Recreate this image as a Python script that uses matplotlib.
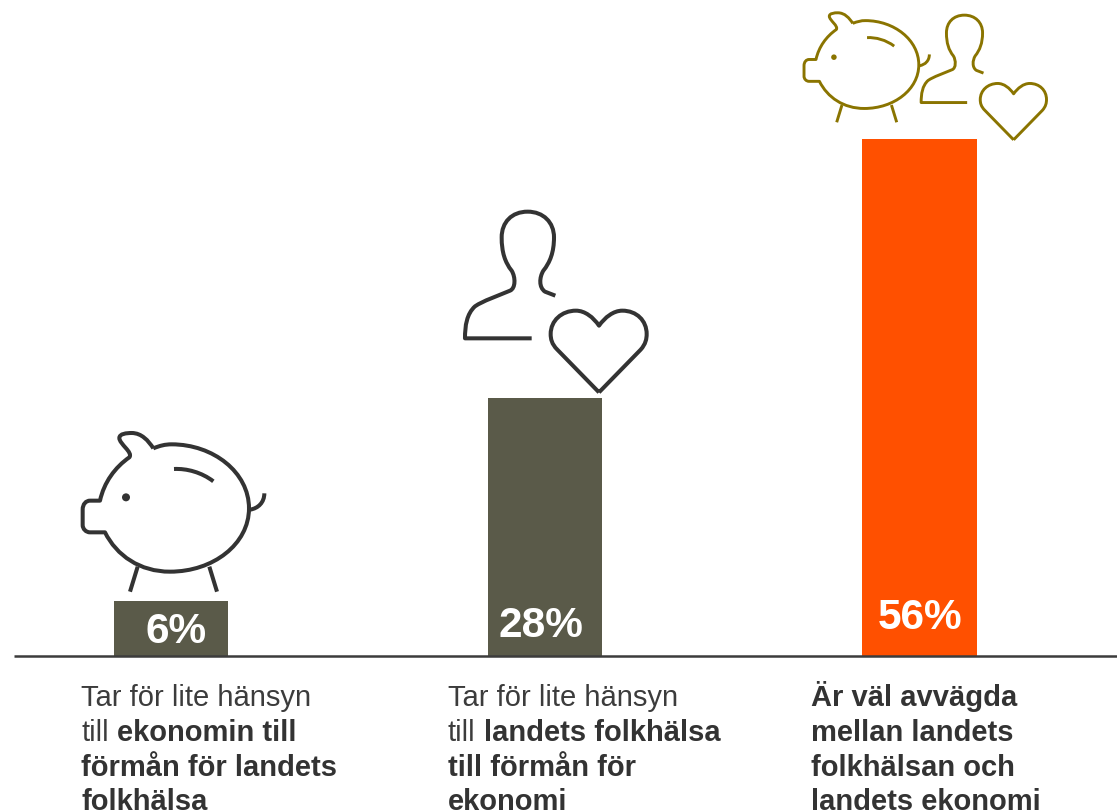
import matplotlib
matplotlib.use("Agg")
import matplotlib.pyplot as plt
from matplotlib.path import Path
from matplotlib.patches import PathPatch, Circle

plt.rcParams['font.family'] = ['Liberation Sans', 'DejaVu Sans']

# ---- data ----
values = [6, 28, 56]
value_labels = ["6%", "28%", "56%"]
bar_colors = ["#5A5A49", "#5A5A49", "#FF5000"]
line1 = [[("Tar för lite hänsyn", False)],
         [("till", False), ("ekonomin till", True)],
         [("förmån för landets", True)],
         [("folkhälsa", True)]]
line2 = [[("Tar för lite hänsyn", False)],
         [("till", False), ("landets folkhälsa", True)],
         [("till förmån för", True)],
         [("ekonomi", True)]]
line3 = [[("Är väl avvägda", True)],
         [("mellan landets", True)],
         [("folkhälsan och", True)],
         [("landets ekonomi", True)]]
captions = [line1, line2, line3]

W, H = 1117, 812
BASE = 657.0
PX_PER_UNIT = 9.225
CENTERS = (171.0, 545.0, 919.5)
STEP = 374.25
fig = plt.figure(figsize=(W / 100, H / 100), dpi=100, facecolor="white")

# bars
x0_px, x1_px = 14, 1117
top_units = 60
ax = fig.add_axes([x0_px / W, (H - BASE) / H, (x1_px - x0_px) / W, top_units * PX_PER_UNIT / H])
ax.set_xlim((x0_px - CENTERS[0]) / STEP, (x1_px - CENTERS[0]) / STEP)
ax.set_ylim(0, top_units)
ax.bar(range(len(values)), values, width=114.5 / STEP, color=bar_colors, linewidth=0)
ax.axis("off")

# overlay in pixel coordinates: icons and text
ov = fig.add_axes([0, 0, 1, 1], facecolor="none")
ov.set_xlim(0, W)
ov.set_ylim(H, 0)
ov.axis("off")
ov.plot([x0_px, x1_px], [BASE - 0.5, BASE - 0.5], color="#3C3C3C", lw=1.8, solid_capstyle="butt")

M, C, L, Z = Path.MOVETO, Path.CURVE4, Path.LINETO, Path.CLOSEPOLY


def curve(start, *segs):
    v, c = [start], [M]
    for s in segs:
        if len(s) == 1:
            v += list(s)
            c += [L]
        else:
            v += list(s)
            c += [C, C, C]
    return v, c


pig = [
    curve((250, 88),
          ((270, 80), (285, 76), (305, 76)),
          ((430, 76), (537, 160), (537, 268)),
          ((537, 375), (430, 458), (300, 458)),
          ((210, 458), (140, 410), (105, 340)),
          ((60, 340),),
          ((48, 340), (38, 330), (38, 318)),
          ((38, 272),),
          ((38, 255), (48, 245), (60, 245)),
          ((90, 245),),
          ((102, 190), (135, 145), (178, 115)),
          ((190, 100), (148, 75), (148, 57)),
          ((148, 44), (170, 42), (185, 42)),
          ((215, 42), (235, 65), (250, 88))),
    curve((312, 150), ((350, 148), (395, 160), (430, 187))),
    curve((540, 272), ((565, 268), (583, 250), (583, 223))),
    curve((203, 443), ((180, 518),)),
    curve((418, 443), ((441, 518),)),
]
PIG_EYE = (168, 235, 12)

person = [
    curve((245, 418), ((45, 418),),
          ((45, 380), (50, 345), (75, 322)),
          ((100, 305), (140, 292), (180, 275)),
          ((197, 268), (197, 235), (185, 215)),
          ((165, 190), (155, 160), (155, 115)),
          ((155, 70), (185, 38), (233, 38)),
          ((280, 38), (312, 70), (312, 115)),
          ((312, 160), (300, 190), (280, 215)),
          ((268, 235), (266, 265), (285, 278)),
          ((316, 290),)),
    curve((447, 580), ((322, 452),),
          ((305, 435), (302, 420), (302, 405)),
          ((302, 365), (335, 335), (378, 335)),
          ((405, 335), (430, 355), (447, 380)),
          ((465, 355), (490, 335), (517, 335)),
          ((560, 335), (590, 365), (590, 405)),
          ((590, 420), (587, 435), (572, 452)),
          ((447, 580),)),
]


def draw(shapes, tf, color, lw):
    for v, c in shapes:
        p = Path([tf(*q) for q in v], c)
        ov.add_patch(PathPatch(p, fc="none", ec=color, lw=lw, capstyle="butt", joinstyle="round"))


DARK, GOLD = "#333333", "#8A7400"
# dark piggy
t = lambda x, y: (70 + x / 3, 420 + y / 3)
draw(pig, t, DARK, 2.9)
ex, ey = t(PIG_EYE[0], PIG_EYE[1])
ov.add_patch(Circle((ex, ey), PIG_EYE[2] / 3, fc=DARK, ec="none"))
# dark person and heart
t = lambda x, y: (450 + x / 3, 200 + y / 3)
draw(person, t, DARK, 2.9)
# gold icons
S = 0.69
t = lambda x, y: (790 + (40 + S * (x - 35)) / 3, (40 + S * (y - 40)) / 3)
draw(pig, t, GOLD, 2.1)
ex, ey = t(PIG_EYE[0], PIG_EYE[1])
ov.add_patch(Circle((ex, ey), S * PIG_EYE[2] / 3, fc=GOLD, ec="none"))
t = lambda x, y: (790 + (390 + S * (x - 40)) / 3, (45 + S * (y - 33)) / 3)
draw(person, t, GOLD, 2.1)

# value labels
label_pos = [(176, 628), (541, 622), (920, 614)]
for s, (x, y) in zip(value_labels, label_pos):
    ov.text(x, y, s, color="white", fontsize=30.5, fontweight="bold", ha="center", va="center_baseline")

# captions
FS = 21
caption_x = [81, 448, 811]
first_base = 706.5
LEAD = 34.6
r = fig.canvas.get_renderer()
space = 0.278 * FS * 100 / 72
for x0, cap in zip(caption_x, captions):
    for i, runs in enumerate(cap):
        x = x0
        y = first_base + i * LEAD
        for s, bold in runs:
            tx = ov.text(x, y, s, fontsize=FS, color="#333333" if bold else "#3C3C3C",
                         fontweight="bold" if bold else "normal", va="baseline", ha="left", clip_on=False)
            x += tx.get_window_extent(r).width + space

fig.savefig("out.png", dpi=100, facecolor="white")
